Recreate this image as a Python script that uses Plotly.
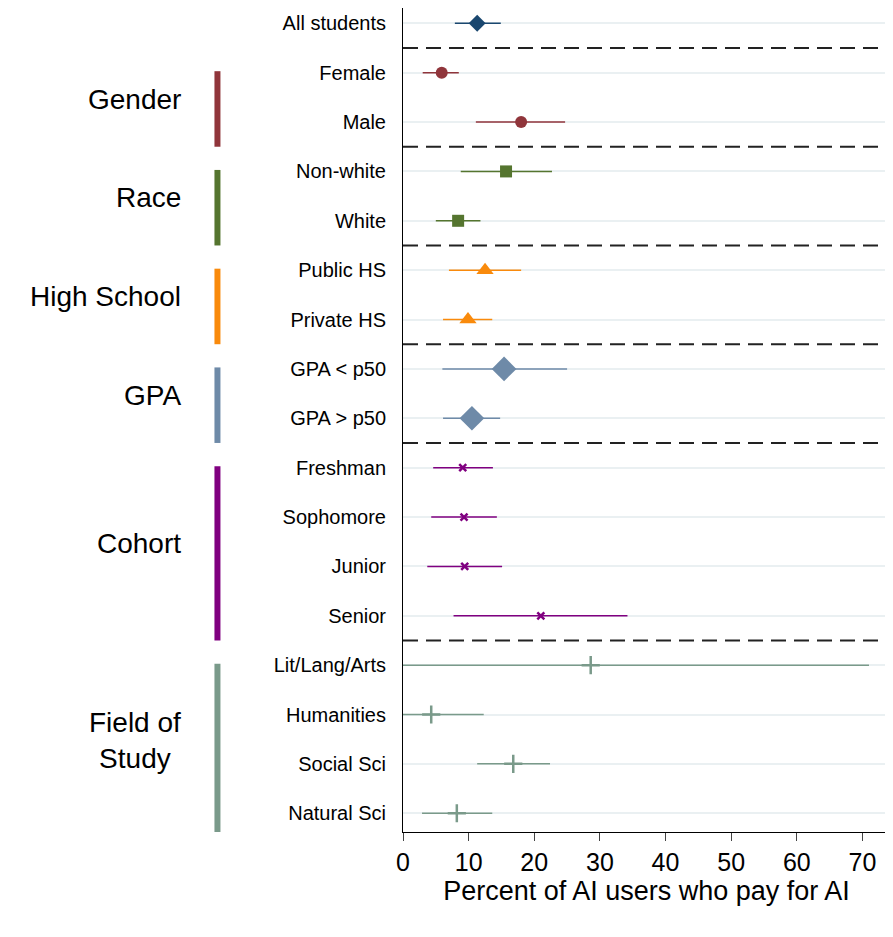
import plotly.graph_objects as go

labels = ["All students","Female","Male","Non-white","White","Public HS","Private HS",
          "GPA < p50","GPA > p50","Freshman","Sophomore","Junior","Senior",
          "Lit/Lang/Arts","Humanities","Social Sci","Natural Sci"]
est = [11.3,5.9,18.0,15.7,8.4,12.5,9.9,15.4,10.5,9.1,9.3,9.4,21.0,28.6,4.3,16.8,8.2]
lo  = [7.9,3.0,11.1,8.8,5.0,7.0,6.1,6.0,6.1,4.6,4.3,3.7,7.7,0.0,0.0,11.3,2.9]
hi  = [14.9,8.5,24.7,22.7,11.8,18.0,13.6,25.0,14.8,13.7,14.3,15.1,34.2,71.0,12.3,22.4,13.6]

groups = [("", [0], "#1a476f", "diamond", 13),
          ("Gender", [1,2], "#90353b", "circle", 12),
          ("Race", [3,4], "#55752f", "square", 12),
          ("High School", [5,6], "#f98a0c", "triangle-up", 15),
          ("GPA", [7,8], "#6e8aa8", "diamond", 19),
          ("Cohort", [9,10,11,12], "#800080", "x-thin", 7),
          ("Field of<br>Study", [13,14,15,16], "#7a9a8a", "cross-thin", 13)]

fig = go.Figure()
for name, rows, col, sym, sz in groups:
    for r in rows:
        fig.add_trace(go.Scatter(x=[lo[r], hi[r]], y=[r, r], mode="lines",
                                 line=dict(color=col, width=1.5), showlegend=False))
    fig.add_trace(go.Scatter(x=[est[r] for r in rows], y=rows, mode="markers",
                             marker=dict(symbol=sym, size=sz, color=col,
                                         line=dict(color=col, width=2.5 if "thin" in sym else 0)),
                             showlegend=False))
    if name:
        y0, y1 = rows[0] - 0.03, rows[-1] + 0.5
        fig.add_shape(type="line", xref="paper", yref="y", x0=-0.381, x1=-0.381,
                      y0=y0, y1=y1, line=dict(color=col, width=6))
        fig.add_annotation(xref="paper", yref="y", x=-0.452, y=(y0 + y1) / 2 - 0.2, text=name,
                           showarrow=False, xanchor="right", align="center",
                           font=dict(size=28, color="black"))

for b in [0.5, 2.5, 4.5, 6.5, 8.5, 12.5]:
    fig.add_shape(type="line", xref="paper", yref="y", x0=0, x1=1, y0=b, y1=b,
                  line=dict(color="#222222", width=2, dash="15px,8px"))

fig.update_layout(
    width=893, height=937, plot_bgcolor="white", paper_bgcolor="white",
    margin=dict(l=395, r=11, t=0, b=113),
    font=dict(family="Liberation Sans, Arial", color="black"),
    xaxis=dict(range=[0, 74.2], tickvals=list(range(0, 80, 10)), ticks="outside",
               ticklen=8, showline=True, linecolor="black", showgrid=False, zeroline=False,
               tickfont=dict(size=25), automargin=False,
               title=dict(text="Percent of AI users who pay for AI", font=dict(size=27), standoff=3)),
    yaxis=dict(range=[16.38, -0.31], tickvals=list(range(17)), ticktext=labels,
               ticks="outside", ticklen=12, tickcolor="white", showline=True, linecolor="black",
               showgrid=True, gridcolor="#eaf0f2", gridwidth=2, zeroline=False,
               tickfont=dict(size=20), automargin=False),
)
fig.write_html("out.html")
